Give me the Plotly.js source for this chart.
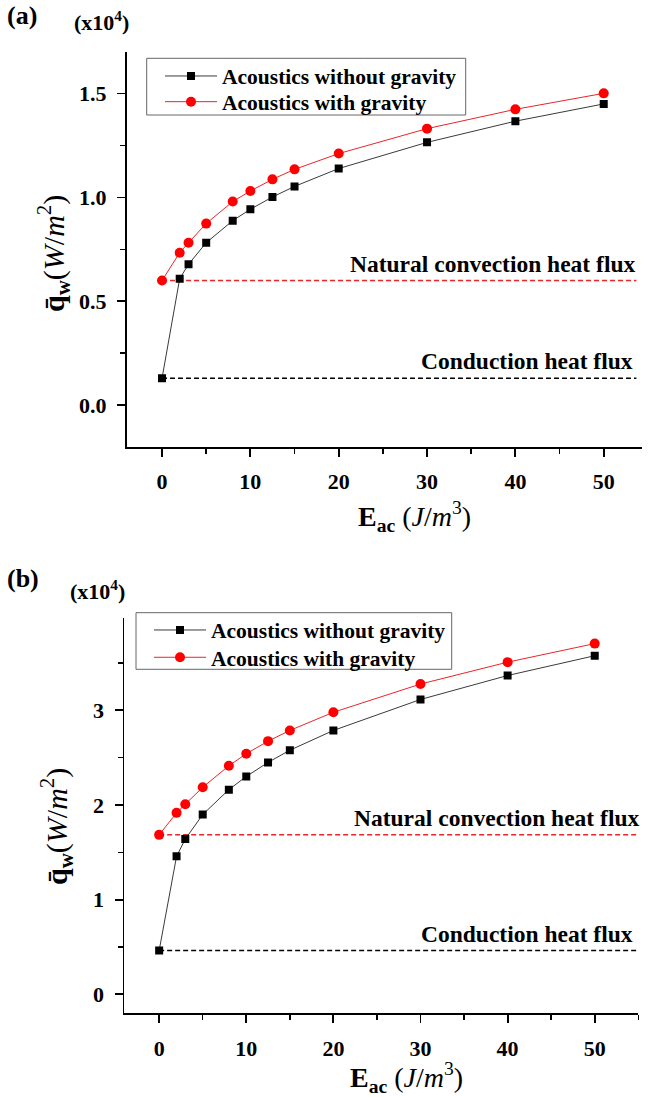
<!DOCTYPE html>
<html>
<head>
<meta charset="utf-8">
<script src="https://cdn.plot.ly/plotly-3.0.1.min.js"></script>
<style>
  html, body { margin: 0; padding: 0; background: #ffffff; }
  #chart { width: 652px; height: 1097px; }
</style>
</head>
<body>
<div id="chart"></div>
<script>
// Acoustic energy density E_ac (J/m^3)
const eAc = [0, 2, 3, 5, 8, 10, 12.5, 15, 20, 30, 40, 50];

// Panel (a): mean wall heat flux, in units of 1e4 W/m^2
const qNoGravityA = [0.129, 0.609, 0.678, 0.782, 0.888, 0.943, 1.002, 1.053, 1.139, 1.265, 1.367, 1.450];
const qGravityA   = [0.600, 0.734, 0.782, 0.874, 0.980, 1.031, 1.087, 1.135, 1.211, 1.331, 1.424, 1.501];

// Panel (b): mean wall heat flux, in units of 1e4 W/m^2
const qNoGravityB = [0.462, 1.457, 1.639, 1.898, 2.161, 2.300, 2.449, 2.577, 2.786, 3.113, 3.366, 3.575];
const qGravityB   = [1.684, 1.916, 2.007, 2.186, 2.413, 2.540, 2.673, 2.786, 2.978, 3.276, 3.507, 3.703];

// Reference fluxes (first point of each series): conduction only, natural convection only
const conductionA = qNoGravityA[0];
const convectionA = qGravityA[0];
const conductionB = qNoGravityB[0];
const convectionB = qGravityB[0];

const seriesNames = ['Acoustics without gravity', 'Acoustics with gravity'];
const refLabels = ['Natural convection heat flux', 'Conduction heat flux'];

const SERIF = '"Liberation Serif", "Times New Roman", serif';
const W = 652, H = 1097;
const px = v => v / W;          // pixel column -> paper x
const py = v => 1 - v / H;      // pixel row -> paper y

const xRangeA = [-4, 54.3];
const xRangeB = [-4, 55];

// each series sits in its own one-row legend so rows can be spaced tightly
function seriesTraces(xa, ya, legendNo, legendG, yNo, yG) {
  return [
    {
      x: eAc, y: yNo, xaxis: xa, yaxis: ya, legend: legendNo,
      name: seriesNames[0], type: 'scatter', mode: 'lines+markers',
      line: { color: '#3a3a3a', width: 1 },
      marker: { symbol: 'square', size: 8, color: '#000000' }
    },
    {
      x: eAc, y: yG, xaxis: xa, yaxis: ya, legend: legendG,
      name: seriesNames[1], type: 'scatter', mode: 'lines+markers',
      line: { color: '#e8262a', width: 1 },
      marker: { symbol: 'circle', size: 10, color: '#ff0000' }
    }
  ];
}

function refLine(xa, ya, xEnd, value, color) {
  return {
    x: [0, xEnd], y: [value, value], xaxis: xa, yaxis: ya,
    type: 'scatter', mode: 'lines', showlegend: false, hoverinfo: 'skip',
    line: { color: color, width: 1.5, dash: '5px,3px' }
  };
}

const data = [
  refLine('x', 'y', xRangeA[1] - 0.6, convectionA, '#e8262a'),
  refLine('x', 'y', xRangeA[1] - 0.6, conductionA, '#000000'),
  refLine('x2', 'y2', xRangeB[1], convectionB, '#e8262a'),
  refLine('x2', 'y2', xRangeB[1], conductionB, '#000000'),
  ...seriesTraces('x', 'y', 'legend', 'legend2', qNoGravityA, qGravityA),
  ...seriesTraces('x2', 'y2', 'legend3', 'legend4', qNoGravityB, qGravityB)
];

const tickFont = { family: SERIF, size: 22, color: '#000000', weight: 'bold' };

function xAxis(domain, range, anchor) {
  return {
    domain: domain, range: range, anchor: anchor,
    showline: true, linecolor: '#000000', linewidth: 1.8,
    showgrid: false, zeroline: false,
    ticks: 'outside', ticklen: 8, tickwidth: 1.8, tickcolor: '#000000',
    tick0: 0, dtick: 10, tickfont: tickFont, ticklabelstandoff: 6,
    minor: { dtick: 5, ticks: 'outside', ticklen: 5, tickwidth: 1.5, tickcolor: '#000000', showgrid: false }
  };
}

function yAxis(domain, range, anchor, dtick, fmt) {
  return {
    domain: domain, range: range, anchor: anchor,
    showline: true, linecolor: '#000000', linewidth: 1.8,
    showgrid: false, zeroline: false,
    ticks: 'outside', ticklen: 8, tickwidth: 1.8, tickcolor: '#000000',
    tick0: 0, dtick: dtick, tickformat: fmt, tickfont: tickFont, ticklabelstandoff: 6,
    minor: { dtick: dtick / 2, ticks: 'outside', ticklen: 5, tickwidth: 1.5, tickcolor: '#000000', showgrid: false }
  };
}

function legendRow(xPix, yPix) {
  return {
    x: px(xPix), y: py(yPix), xanchor: 'left', yanchor: 'middle',
    font: { family: SERIF, size: 21.5, color: '#000000', weight: 'bold' },
    bgcolor: 'rgba(0,0,0,0)', borderwidth: 0, itemwidth: 52, tracegroupgap: 0
  };
}

function legendBox(x0, x1, y0, y1) {
  return {
    type: 'rect', xref: 'paper', yref: 'paper',
    x0: px(x0), x1: px(x1), y0: py(y1), y1: py(y0),
    line: { color: '#666666', width: 1 }, fillcolor: '#ffffff', layer: 'above'
  };
}

function txt(text, x, y, size, extra) {
  return Object.assign({
    text: text, x: x, y: y, xref: 'paper', yref: 'paper',
    xanchor: 'center', yanchor: 'middle',
    showarrow: false, font: { family: SERIF, size: size, color: '#000000' }
  }, extra || {});
}

const yTitle = '<b>q&#772;<sub>w</sub></b>(<i>W</i>/<i>m</i><sup>2</sup>)';
const xTitle = '<b>E<sub>ac</sub></b> (<i>J</i>/<i>m</i><sup>3</sup>)';

const annotations = [
  txt('<b>(a)</b>', px(22), py(15), 26),
  txt('<b>(x10<sup>4</sup>)</b>', px(101), py(21), 22),
  txt('<b>(b)</b>', px(23), py(578), 26),
  txt('<b>(x10<sup>4</sup>)</b>', px(97), py(590), 22),
  txt(yTitle, px(53), py(254), 30, { textangle: -90 }),
  txt(yTitle, px(56), py(827), 30, { textangle: -90 }),
  txt(xTitle, px(414), py(516), 28),
  txt(xTitle, px(407), py(1077), 28),
  txt('<b>' + refLabels[0] + '</b>', px(637), convectionA, 23.5, { yref: 'y', xanchor: 'right', yanchor: 'bottom', yshift: 2 }),
  txt('<b>' + refLabels[1] + '</b>', px(635), conductionA, 23.5, { yref: 'y', xanchor: 'right', yanchor: 'bottom', yshift: 2 }),
  txt('<b>' + refLabels[0] + '</b>', px(641), convectionB, 23.5, { yref: 'y2', xanchor: 'right', yanchor: 'bottom', yshift: 2 }),
  txt('<b>' + refLabels[1] + '</b>', px(635), conductionB, 23.5, { yref: 'y2', xanchor: 'right', yanchor: 'bottom', yshift: 2 })
];

const layout = {
  width: W, height: H,
  margin: { l: 0, r: 0, t: 0, b: 0 },
  paper_bgcolor: '#ffffff', plot_bgcolor: '#ffffff',
  font: { family: SERIF, color: '#000000' },
  xaxis: xAxis([px(126.7), px(641.7)], xRangeA, 'y'),
  yaxis: yAxis([py(446.7), py(52)], [-0.2, 1.7], 'x', 0.5, '.1f'),
  xaxis2: xAxis([px(124.3), px(638.3)], xRangeB, 'y2'),
  yaxis2: yAxis([py(1013.3), py(618.3)], [-0.2, 3.97], 'x2', 1, 'd'),
  legend: legendRow(160, 76),
  legend2: legendRow(160, 101.7),
  legend3: legendRow(149, 630),
  legend4: legendRow(149, 657.3),
  shapes: [
    legendBox(146.7, 465.7, 58.3, 115),
    legendBox(136, 451.7, 612.7, 669.3)
  ],
  annotations: annotations
};

Plotly.newPlot('chart', data, layout, { displayModeBar: false, staticPlot: true });
</script>
</body>
</html>
